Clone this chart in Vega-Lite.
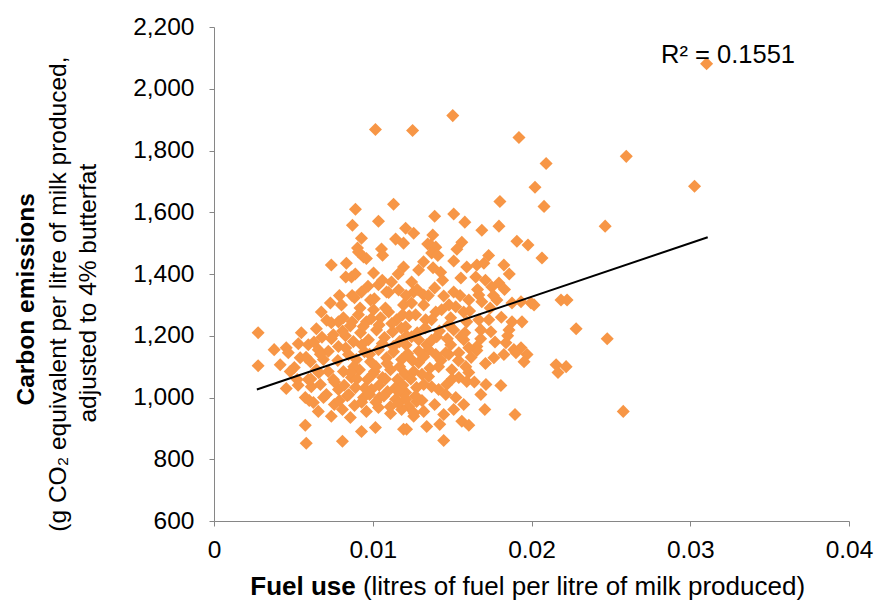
{
  "$schema": "https://vega.github.io/schema/vega-lite/v6.json",
  "width": 635,
  "height": 494,
  "autosize": {"type": "none"},
  "padding": {"left": 214, "top": 27, "right": 29, "bottom": 84},
  "background": "white",
  "config": {
    "view": {"stroke": null},
    "font": "Liberation Sans",
    "axis": {
      "grid": false,
      "domainColor": "#868686",
      "tickColor": "#868686",
      "tickSize": 5,
      "labelFont": "Liberation Sans",
      "labelFontSize": 24.5,
      "labelColor": "#000000",
      "title": null
    }
  },
  "layer": [
    {
      "data": {"values": [
        {"fuel":0.03103,"emissions":2081},{"fuel":0.01504,"emissions":1913},{"fuel":0.01017,"emissions":1868},{"fuel":0.01251,"emissions":1865},
        {"fuel":0.01921,"emissions":1842},{"fuel":0.02092,"emissions":1758},{"fuel":0.02597,"emissions":1781},{"fuel":0.02022,"emissions":1681},
        {"fuel":0.02079,"emissions":1619},{"fuel":0.01801,"emissions":1635},{"fuel":0.03027,"emissions":1684},{"fuel":0.02464,"emissions":1555},
        {"fuel":0.00891,"emissions":1610},{"fuel":0.01131,"emissions":1626},{"fuel":0.00872,"emissions":1558},{"fuel":0.01036,"emissions":1571},
        {"fuel":0.00929,"emissions":1516},{"fuel":0.01207,"emissions":1548},{"fuel":0.01144,"emissions":1513},{"fuel":0.01194,"emissions":1500},
        {"fuel":0.00904,"emissions":1484},{"fuel":0.01055,"emissions":1481},{"fuel":0.0139,"emissions":1587},{"fuel":0.0151,"emissions":1594},
        {"fuel":0.0158,"emissions":1568},{"fuel":0.01687,"emissions":1542},{"fuel":0.01795,"emissions":1555},{"fuel":0.01258,"emissions":1532},
        {"fuel":0.01378,"emissions":1526},{"fuel":0.01346,"emissions":1497},{"fuel":0.01397,"emissions":1487},{"fuel":0.01561,"emissions":1503},
        {"fuel":0.01908,"emissions":1506},{"fuel":0.01978,"emissions":1494},{"fuel":0.02186,"emissions":1316},{"fuel":0.02224,"emissions":1316},
        {"fuel":0.02281,"emissions":1223},{"fuel":0.02477,"emissions":1190},{"fuel":0.02155,"emissions":1106},{"fuel":0.02218,"emissions":1100},
        {"fuel":0.02167,"emissions":1081},{"fuel":0.02578,"emissions":955},{"fuel":0.00278,"emissions":1210},{"fuel":0.00278,"emissions":1103},
        {"fuel":0.00739,"emissions":1429},{"fuel":0.00834,"emissions":1435},{"fuel":0.0091,"emissions":1471},{"fuel":0.00942,"emissions":1455},
        {"fuel":0.01062,"emissions":1461},{"fuel":0.00866,"emissions":1390},{"fuel":0.01005,"emissions":1403},{"fuel":0.01118,"emissions":1374},
        {"fuel":0.00929,"emissions":1342},{"fuel":0.01194,"emissions":1423},{"fuel":0.00676,"emissions":1277},{"fuel":0.00733,"emissions":1306},
        {"fuel":0.00803,"emissions":1300},{"fuel":0.0055,"emissions":1210},{"fuel":0.00645,"emissions":1223},{"fuel":0.00739,"emissions":1242},
        {"fuel":0.00455,"emissions":1161},{"fuel":0.00657,"emissions":1155},{"fuel":0.00784,"emissions":1165},{"fuel":0.01365,"emissions":1494},
        {"fuel":0.01371,"emissions":1468},{"fuel":0.02066,"emissions":1452},{"fuel":0.01289,"emissions":1413},{"fuel":0.0151,"emissions":1442},
        {"fuel":0.01428,"emissions":1406},{"fuel":0.01592,"emissions":1423},{"fuel":0.01656,"emissions":1429},{"fuel":0.017,"emissions":1435},
        {"fuel":0.01826,"emissions":1429},{"fuel":0.01555,"emissions":1387},{"fuel":0.01649,"emissions":1390},{"fuel":0.0175,"emissions":1358},
        {"fuel":0.01795,"emissions":1371},{"fuel":0.01245,"emissions":1374},{"fuel":0.0139,"emissions":1355},{"fuel":0.01668,"emissions":1332},
        {"fuel":0.01687,"emissions":1310},{"fuel":0.01782,"emissions":1316},{"fuel":0.01877,"emissions":1306},{"fuel":0.01934,"emissions":1310},
        {"fuel":0.01997,"emissions":1306},{"fuel":0.02016,"emissions":1300},{"fuel":0.01194,"emissions":1300},{"fuel":0.01245,"emissions":1306},
        {"fuel":0.01321,"emissions":1300},{"fuel":0.01434,"emissions":1284},{"fuel":0.01523,"emissions":1294},{"fuel":0.01573,"emissions":1277},
        {"fuel":0.01668,"emissions":1252},{"fuel":0.01731,"emissions":1252},{"fuel":0.01877,"emissions":1245},{"fuel":0.0194,"emissions":1245},
        {"fuel":0.01333,"emissions":1252},{"fuel":0.01371,"emissions":1252},{"fuel":0.01479,"emissions":1235},{"fuel":0.0151,"emissions":1219},
        {"fuel":0.01681,"emissions":1219},{"fuel":0.01744,"emissions":1213},{"fuel":0.01858,"emissions":1219},{"fuel":0.01207,"emissions":1229},
        {"fuel":0.01245,"emissions":1197},{"fuel":0.01403,"emissions":1197},{"fuel":0.01555,"emissions":1197},{"fuel":0.01573,"emissions":1187},
        {"fuel":0.01656,"emissions":1165},{"fuel":0.01839,"emissions":1177},{"fuel":0.01889,"emissions":1155},{"fuel":0.01934,"emissions":1161},
        {"fuel":0.01352,"emissions":1155},{"fuel":0.0146,"emissions":1145},{"fuel":0.01542,"emissions":1145},{"fuel":0.01972,"emissions":1139},
        {"fuel":0.00468,"emissions":1145},{"fuel":0.00543,"emissions":1129},{"fuel":0.00455,"emissions":1029},{"fuel":0.00594,"emissions":1058},
        {"fuel":0.00613,"emissions":1035},{"fuel":0.00575,"emissions":1000},{"fuel":0.00626,"emissions":984},{"fuel":0.00657,"emissions":955},
        {"fuel":0.00739,"emissions":939},{"fuel":0.00859,"emissions":935},{"fuel":0.00929,"emissions":890},{"fuel":0.01017,"emissions":903},
        {"fuel":0.00575,"emissions":910},{"fuel":0.00581,"emissions":852},{"fuel":0.00809,"emissions":858},{"fuel":0.01194,"emissions":897},
        {"fuel":0.01656,"emissions":1152},{"fuel":0.01763,"emissions":1129},{"fuel":0.01826,"emissions":1139},{"fuel":0.01902,"emissions":1145},
        {"fuel":0.01953,"emissions":1116},{"fuel":0.01713,"emissions":1042},{"fuel":0.01807,"emissions":1039},{"fuel":0.01681,"emissions":1010},
        {"fuel":0.01706,"emissions":961},{"fuel":0.01896,"emissions":945},{"fuel":0.01561,"emissions":923},{"fuel":0.01605,"emissions":910},
        {"fuel":0.0134,"emissions":906},{"fuel":0.01422,"emissions":913},{"fuel":0.01447,"emissions":861},{"fuel":0.01213,"emissions":897},
        {"fuel":0.01276,"emissions":987},{"fuel":0.01258,"emissions":939},{"fuel":0.01466,"emissions":1042},{"fuel":0.01523,"emissions":1000},
        {"fuel":0.0146,"emissions":1010},{"fuel":0.01586,"emissions":1100},{"fuel":0.01605,"emissions":1081},{"fuel":0.01592,"emissions":1052},
        {"fuel":0.01498,"emissions":1090},{"fuel":0.01415,"emissions":1100},{"fuel":0.01352,"emissions":1068},{"fuel":0.01371,"emissions":1035},
        {"fuel":0.01207,"emissions":1016},{"fuel":0.01226,"emissions":971},{"fuel":0.01182,"emissions":961},{"fuel":0.01289,"emissions":1113},
        {"fuel":0.01321,"emissions":1132},{"fuel":0.01397,"emissions":1139},{"fuel":0.01479,"emissions":1139},
        {"fuel":0.00815,"emissions":1258},{"fuel":0.00859,"emissions":1232},{"fuel":0.0091,"emissions":1268},{"fuel":0.0096,"emissions":1245},
        {"fuel":0.01005,"emissions":1284},{"fuel":0.01049,"emissions":1258},{"fuel":0.011,"emissions":1277},{"fuel":0.0115,"emissions":1252},
        {"fuel":0.01188,"emissions":1268},{"fuel":0.00828,"emissions":1200},{"fuel":0.00878,"emissions":1181},{"fuel":0.00923,"emissions":1210},
        {"fuel":0.00973,"emissions":1187},{"fuel":0.01024,"emissions":1219},{"fuel":0.01074,"emissions":1194},{"fuel":0.01125,"emissions":1213},
        {"fuel":0.01169,"emissions":1181},{"fuel":0.01213,"emissions":1200},{"fuel":0.00847,"emissions":1139},{"fuel":0.00897,"emissions":1123},
        {"fuel":0.00948,"emissions":1148},{"fuel":0.00986,"emissions":1116},{"fuel":0.01036,"emissions":1155},{"fuel":0.01087,"emissions":1129},
        {"fuel":0.01131,"emissions":1148},{"fuel":0.01182,"emissions":1123},{"fuel":0.0122,"emissions":1142},{"fuel":0.00815,"emissions":1084},
        {"fuel":0.00866,"emissions":1065},{"fuel":0.00916,"emissions":1090},{"fuel":0.00967,"emissions":1058},{"fuel":0.01011,"emissions":1084},
        {"fuel":0.01062,"emissions":1065},{"fuel":0.01112,"emissions":1090},{"fuel":0.01156,"emissions":1058},{"fuel":0.01201,"emissions":1077},
        {"fuel":0.00784,"emissions":1026},{"fuel":0.0084,"emissions":1006},{"fuel":0.00891,"emissions":1032},{"fuel":0.00942,"emissions":1000},
        {"fuel":0.00992,"emissions":1026},{"fuel":0.01043,"emissions":1000},{"fuel":0.01093,"emissions":1019},{"fuel":0.01144,"emissions":994},
        {"fuel":0.01188,"emissions":1013},{"fuel":0.00758,"emissions":977},{"fuel":0.00809,"emissions":961},{"fuel":0.00885,"emissions":974},
        {"fuel":0.0096,"emissions":955},{"fuel":0.01036,"emissions":968},{"fuel":0.01112,"emissions":948},{"fuel":0.01163,"emissions":981},
        {"fuel":0.00689,"emissions":1123},{"fuel":0.0072,"emissions":1084},{"fuel":0.0067,"emissions":1042},{"fuel":0.00752,"emissions":1058},
        {"fuel":0.00708,"emissions":1010},{"fuel":0.00645,"emissions":1090},{"fuel":0.00607,"emissions":1116},
        {"fuel":0.01258,"emissions":1342},{"fuel":0.01321,"emissions":1332},{"fuel":0.01447,"emissions":1329},{"fuel":0.0151,"emissions":1342},
        {"fuel":0.01605,"emissions":1316},{"fuel":0.0127,"emissions":1268},{"fuel":0.01397,"emissions":1277},{"fuel":0.01491,"emissions":1258},
        {"fuel":0.01592,"emissions":1245},{"fuel":0.01289,"emissions":1187},{"fuel":0.0134,"emissions":1171},{"fuel":0.01491,"emissions":1171},
        {"fuel":0.01605,"emissions":1161},{"fuel":0.01258,"emissions":1084},{"fuel":0.01321,"emissions":1042},{"fuel":0.01415,"emissions":1026},
        {"fuel":0.01542,"emissions":1065},{"fuel":0.01276,"emissions":1032},{"fuel":0.0139,"emissions":977},{"fuel":0.0151,"emissions":961},
        {"fuel":0.01447,"emissions":945},{"fuel":0.01573,"emissions":977},{"fuel":0.01321,"emissions":955},
        {"fuel":0.00752,"emissions":1203},{"fuel":0.00784,"emissions":1245},{"fuel":0.00379,"emissions":1155},{"fuel":0.00417,"emissions":1106},
        {"fuel":0.00506,"emissions":1097},{"fuel":0.00524,"emissions":1058},{"fuel":0.0048,"emissions":1084},{"fuel":0.00594,"emissions":1171},
        {"fuel":0.00531,"emissions":1174},{"fuel":0.01036,"emissions":1365},{"fuel":0.01087,"emissions":1342},{"fuel":0.00986,"emissions":1316},
        {"fuel":0.00885,"emissions":1323},{"fuel":0.01163,"emissions":1348},
        {"fuel":0.0072,"emissions":1150},{"fuel":0.0078,"emissions":1120},{"fuel":0.0083,"emissions":1160},{"fuel":0.0088,"emissions":1100},
        {"fuel":0.0093,"emissions":1170},{"fuel":0.0098,"emissions":1140},{"fuel":0.0102,"emissions":1100},{"fuel":0.0106,"emissions":1175},
        {"fuel":0.0109,"emissions":1110},{"fuel":0.0113,"emissions":1165},{"fuel":0.0117,"emissions":1100},{"fuel":0.0121,"emissions":1170},
        {"fuel":0.0125,"emissions":1120},{"fuel":0.0129,"emissions":1150},{"fuel":0.0074,"emissions":1190},{"fuel":0.0081,"emissions":1215},
        {"fuel":0.0087,"emissions":1245},{"fuel":0.0094,"emissions":1230},{"fuel":0.0099,"emissions":1255},{"fuel":0.0104,"emissions":1235},
        {"fuel":0.0108,"emissions":1290},{"fuel":0.0112,"emissions":1240},{"fuel":0.0118,"emissions":1225},{"fuel":0.0123,"emissions":1265},
        {"fuel":0.0128,"emissions":1210},{"fuel":0.0133,"emissions":1225},{"fuel":0.0137,"emissions":1185},{"fuel":0.0142,"emissions":1215},
        {"fuel":0.0076,"emissions":1050},{"fuel":0.0082,"emissions":1040},{"fuel":0.0086,"emissions":1080},{"fuel":0.009,"emissions":1060},
        {"fuel":0.0095,"emissions":1030},{"fuel":0.01,"emissions":1075},{"fuel":0.0104,"emissions":1040},{"fuel":0.0108,"emissions":1060},
        {"fuel":0.0114,"emissions":1030},{"fuel":0.0119,"emissions":1040},{"fuel":0.0124,"emissions":1060},{"fuel":0.0127,"emissions":1005},
        {"fuel":0.0131,"emissions":1075},{"fuel":0.0136,"emissions":1095},{"fuel":0.0079,"emissions":990},{"fuel":0.0085,"emissions":1010},
        {"fuel":0.0093,"emissions":985},{"fuel":0.0098,"emissions":1010},{"fuel":0.0102,"emissions":985},{"fuel":0.0107,"emissions":1005},
        {"fuel":0.0111,"emissions":970},{"fuel":0.0116,"emissions":1020},{"fuel":0.0121,"emissions":995},{"fuel":0.0126,"emissions":950},
        {"fuel":0.0131,"emissions":990},{"fuel":0.0143,"emissions":1120},{"fuel":0.0147,"emissions":1190},{"fuel":0.015,"emissions":1060},
        {"fuel":0.0154,"emissions":1120},{"fuel":0.0158,"emissions":1210},{"fuel":0.0162,"emissions":1130},{"fuel":0.0164,"emissions":1050},
        {"fuel":0.0168,"emissions":1190},{"fuel":0.0171,"emissions":1110},{"fuel":0.0174,"emissions":1290},{"fuel":0.0177,"emissions":1180},
        {"fuel":0.0181,"emissions":1260},{"fuel":0.0185,"emissions":1200},{"fuel":0.0148,"emissions":1300},{"fuel":0.0155,"emissions":1330},
        {"fuel":0.0161,"emissions":1280},{"fuel":0.0166,"emissions":1350},{"fuel":0.0171,"emissions":1380},{"fuel":0.0176,"emissions":1330},
        {"fuel":0.0183,"emissions":1350},{"fuel":0.0144,"emissions":1380},{"fuel":0.0138,"emissions":1420},{"fuel":0.0135,"emissions":1330},
        {"fuel":0.0128,"emissions":1350},{"fuel":0.0121,"emissions":1330},{"fuel":0.0116,"emissions":1400},{"fuel":0.011,"emissions":1340},
        {"fuel":0.0106,"emissions":1380},{"fuel":0.0101,"emissions":1320},{"fuel":0.0097,"emissions":1360},{"fuel":0.0092,"emissions":1290},
        {"fuel":0.0087,"emissions":1330},{"fuel":0.0063,"emissions":1180},{"fuel":0.0067,"emissions":1140},{"fuel":0.0061,"emissions":1060},
        {"fuel":0.0069,"emissions":1000},{"fuel":0.0066,"emissions":1080},{"fuel":0.0071,"emissions":1250},{"fuel":0.0058,"emissions":1130},
        {"fuel":0.0053,"emissions":1040},{"fuel":0.006,"emissions":990},{"fuel":0.0068,"emissions":1195},{"fuel":0.0089,"emissions":1400},
        {"fuel":0.0079,"emissions":1330},{"fuel":0.0083,"emissions":1390},{"fuel":0.0096,"emissions":1450},{"fuel":0.0132,"emissions":1440},
        {"fuel":0.0141,"emissions":1460},{"fuel":0.0153,"emissions":1480},{"fuel":0.0173,"emissions":1460},{"fuel":0.0186,"emissions":1400}
      ]},
      "mark": {"type": "point", "shape": "diamond", "filled": true, "size": 170, "color": "#F79646", "opacity": 1},
      "encoding": {
        "x": {"field": "fuel", "type": "quantitative",
          "scale": {"domain": [0, 0.04], "nice": false, "zero": false},
          "axis": {"values": [0, 0.01, 0.02, 0.03, 0.04], "format": ".2~f", "labelFlush": false, "labelPadding": 12}},
        "y": {"field": "emissions", "type": "quantitative",
          "scale": {"domain": [600, 2200], "nice": false, "zero": false},
          "axis": {"values": [600, 800, 1000, 1200, 1400, 1600, 1800, 2000, 2200], "format": ",d", "labelPadding": 15}}
      }
    },
    {
      "data": {"values": [{"fuel": 0.0027, "emissions": 1026}, {"fuel": 0.0311, "emissions": 1519}]},
      "mark": {"type": "line", "color": "#000000", "strokeWidth": 2},
      "encoding": {
        "x": {"field": "fuel", "type": "quantitative"},
        "y": {"field": "emissions", "type": "quantitative"}
      }
    },
    {
      "data": {"values": [{"label": "R² = 0.1551"}]},
      "mark": {"type": "text", "align": "left", "baseline": "alphabetic", "fontSize": 25.5, "font": "Liberation Sans", "color": "#000000"},
      "encoding": {
        "x": {"datum": 0.02816, "type": "quantitative"},
        "y": {"datum": 2084, "type": "quantitative"},
        "text": {"field": "label"}
      }
    },
    {
      "data": {"values": [{"label": "Fuel use"}]},
      "mark": {"type": "text", "align": "right", "baseline": "alphabetic", "fontSize": 26, "fontWeight": "bold", "font": "Liberation Sans", "color": "#000000"},
      "encoding": {
        "x": {"datum": 0.00893, "type": "quantitative"},
        "y": {"datum": 359, "type": "quantitative"},
        "text": {"field": "label"}
      }
    },
    {
      "data": {"values": [{"label": "(litres of fuel per litre of milk produced)"}]},
      "mark": {"type": "text", "align": "left", "baseline": "alphabetic", "fontSize": 26, "font": "Liberation Sans", "color": "#000000"},
      "encoding": {
        "x": {"datum": 0.00938, "type": "quantitative"},
        "y": {"datum": 359, "type": "quantitative"},
        "text": {"field": "label"}
      }
    },
    {
      "data": {"values": [{"label": "Carbon emissions"}]},
      "mark": {"type": "text", "align": "center", "baseline": "alphabetic", "angle": 270, "fontSize": 24.5, "fontWeight": "bold", "font": "Liberation Sans", "color": "#000000"},
      "encoding": {
        "x": {"datum": -0.01134, "type": "quantitative"},
        "y": {"datum": 1318, "type": "quantitative"},
        "text": {"field": "label"}
      }
    },
    {
      "data": {"values": [{"label": "(g CO₂ equivalent per litre of milk produced,"}]},
      "mark": {"type": "text", "align": "center", "baseline": "alphabetic", "angle": 270, "fontSize": 24.5, "font": "Liberation Sans", "color": "#000000"},
      "encoding": {
        "x": {"datum": -0.00933, "type": "quantitative"},
        "y": {"datum": 1335, "type": "quantitative"},
        "text": {"field": "label"}
      }
    },
    {
      "data": {"values": [{"label": "adjusted to 4% butterfat"}]},
      "mark": {"type": "text", "align": "center", "baseline": "alphabetic", "angle": 270, "fontSize": 24.5, "font": "Liberation Sans", "color": "#000000"},
      "encoding": {
        "x": {"datum": -0.00744, "type": "quantitative"},
        "y": {"datum": 1338, "type": "quantitative"},
        "text": {"field": "label"}
      }
    }
  ]
}
